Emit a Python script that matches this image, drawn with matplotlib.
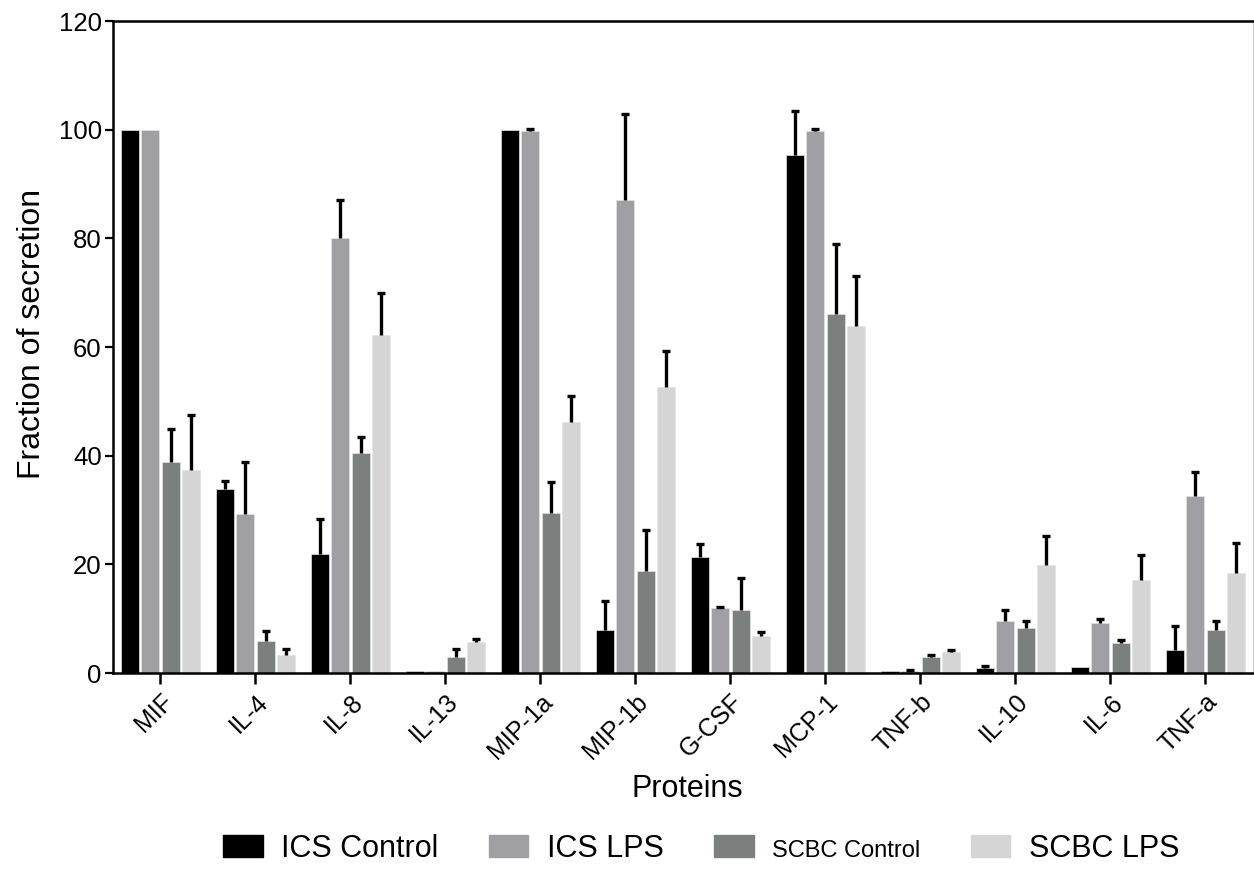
import numpy as np
import matplotlib
matplotlib.use("Agg")
import matplotlib.pyplot as plt
from matplotlib.patches import Patch

plt.rcParams['font.family'] = ['Liberation Sans', 'DejaVu Sans']

proteins = ["MIF", "IL-4", "IL-8", "IL-13", "MIP-1a", "MIP-1b",
            "G-CSF", "MCP-1", "TNF-b", "IL-10", "IL-6", "TNF-a"]

# mean fraction of secretion and upper error per group
ics_control = [100, 33.8, 22.0, 0.3, 100, 7.9, 21.4, 95.4, 0.3, 0.9, 1.2, 4.2]
ics_control_err = [0, 1.6, 6.3, 0, 0, 5.4, 2.3, 8.1, 0, 0.4, 0, 4.5]
ics_lps = [100, 29.3, 80.0, 0.3, 99.8, 87.1, 12.0, 99.8, 0.4, 9.6, 9.3, 32.5]
ics_lps_err = [0, 9.6, 7.0, 0, 0.4, 15.8, 0.2, 0.4, 0.2, 2.0, 0.6, 4.5]
scbc_control = [38.9, 5.9, 40.5, 2.9, 29.4, 18.8, 11.6, 66.1, 2.9, 8.2, 5.6, 7.9]
scbc_control_err = [6.0, 1.8, 3.0, 1.5, 5.8, 7.5, 5.9, 12.8, 0.4, 1.3, 0.5, 1.7]
scbc_lps = [37.4, 3.3, 62.2, 5.7, 46.2, 52.7, 6.9, 63.9, 3.8, 19.9, 17.1, 18.4]
scbc_lps_err = [10.0, 1.1, 7.8, 0.5, 4.7, 6.6, 0.7, 9.1, 0.4, 5.3, 4.6, 5.6]

series = [
    ("ICS Control", ics_control, ics_control_err, "#000000"),
    ("ICS LPS", ics_lps, ics_lps_err, "#a0a0a4"),
    ("SCBC Control", scbc_control, scbc_control_err, "#7b807f"),
    ("SCBC LPS", scbc_lps, scbc_lps_err, "#d5d5d5"),
]

fig = plt.figure(figsize=(12.54, 8.69), dpi=100)
ax = fig.add_axes([0.0901, 0.2255, 0.9091, 0.7503])

x = np.arange(len(proteins))
pitch = 0.213
width = 0.19

handles = []
for i, (name, vals, errs, col) in enumerate(series):
    pos = x + (i - 1.5) * pitch
    vals = np.array(vals, dtype=float)
    errs = np.array(errs, dtype=float)
    ax.bar(pos, vals, width=width, color=col, edgecolor="#e4e4e4",
           linewidth=0.5, zorder=2)
    # only draw whiskers where there is a spread, upward only
    m = errs > 0
    _, caps, _ = ax.errorbar(pos[m], vals[m],
                             yerr=[np.zeros(m.sum()), errs[m]],
                             fmt="none", ecolor="black", elinewidth=2.4,
                             capsize=2.8, capthick=2.4, zorder=3)
    caps[0].set_visible(False)
    handles.append(Patch(facecolor=col, edgecolor=col, label=name))

ax.set_xlim(-0.5, 11.5)
ax.set_ylim(0, 120)
ax.set_yticks(np.arange(0, 121, 20))
ax.set_xticks(x)
ax.set_xticklabels(proteins, rotation=45, ha="right",
                   rotation_mode="anchor", fontsize=18)
ax.tick_params(axis="y", labelsize=18.5, direction="out", length=6,
               width=1.6, pad=2)
ax.tick_params(axis="x", direction="out", length=8, width=1.8, pad=4)

for s in ["left", "bottom", "top"]:
    ax.spines[s].set_linewidth(1.8)
    ax.spines[s].set_color("black")
ax.spines["right"].set_linewidth(0.8)
ax.spines["right"].set_color("#c8c8c8")

ax.set_ylabel("Fraction of secretion", fontsize=23)
ax.set_xlabel("Proteins", fontsize=22)
ax.yaxis.set_label_coords(-0.058, 0.52)
ax.xaxis.set_label_coords(0.504, -0.155)

leg = fig.legend(handles=handles, loc="center", ncol=4, frameon=False,
                 bbox_to_anchor=(0.559, 0.023), fontsize=22,
                 handlelength=1.3, handleheight=0.72, handletextpad=0.6,
                 columnspacing=1.65)
leg.get_texts()[2].set_fontsize(17)

fig.savefig("out.png", dpi=100)
